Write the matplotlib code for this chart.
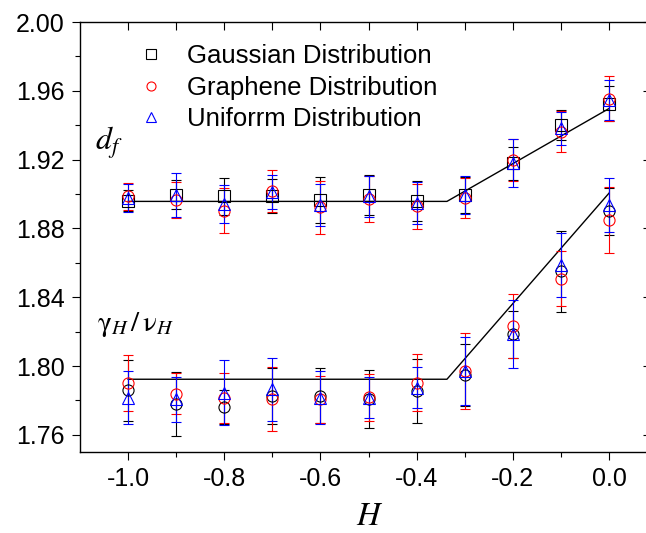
import matplotlib
matplotlib.use("Agg")
import matplotlib.pyplot as plt
import numpy as np
from matplotlib.lines import Line2D

plt.rcParams['font.family'] = ['Liberation Sans', 'DejaVu Sans']
plt.rcParams['mathtext.fontset'] = 'stix'
plt.rcParams['axes.unicode_minus'] = False

# H values
H = [-1.0, -0.9, -0.8, -0.7, -0.6, -0.5, -0.4, -0.3, -0.2, -0.1, 0.0]

# d_f (upper group)
df_gauss = [1.8961, 1.8995, 1.8986, 1.8986, 1.8966, 1.8995, 1.8957, 1.8995, 1.9179, 1.9401, 1.9526]
df_gauss_err = [0.0060, 0.0085, 0.0106, 0.0099, 0.0133, 0.0116, 0.0116, 0.0106, 0.0097, 0.0087, 0.0100]
df_graph = [1.8986, 1.8966, 1.8903, 1.9018, 1.8922, 1.8972, 1.8928, 1.8976, 1.9198, 1.9362, 1.9555]
df_graph_err = [0.0077, 0.0104, 0.0130, 0.0122, 0.0153, 0.0135, 0.0130, 0.0116, 0.0120, 0.0120, 0.0130]
df_unif = [1.8976, 1.8995, 1.8940, 1.9010, 1.8937, 1.8986, 1.8947, 1.8995, 1.9179, 1.9381, 1.9546]
df_unif_err = [0.0080, 0.0130, 0.0110, 0.0100, 0.0124, 0.0120, 0.0120, 0.0110, 0.0140, 0.0097, 0.0114]

# gamma_H / nu_H (lower group)
gn_gauss = [1.7859, 1.7781, 1.7762, 1.7826, 1.7826, 1.7807, 1.7855, 1.7948, 1.8184, 1.8551, 1.8899]
gn_gauss_err = [0.0176, 0.0186, 0.0100, 0.0162, 0.0160, 0.0170, 0.0186, 0.0180, 0.0135, 0.0236, 0.0135]
gn_graph = [1.7900, 1.7839, 1.7816, 1.7807, 1.7807, 1.7819, 1.7903, 1.7971, 1.8232, 1.8508, 1.8850]
gn_graph_err = [0.0164, 0.0118, 0.0145, 0.0186, 0.0137, 0.0137, 0.0164, 0.0220, 0.0188, 0.0160, 0.0193]
gn_unif = [1.7816, 1.7807, 1.7845, 1.7865, 1.7816, 1.7816, 1.7874, 1.7971, 1.8184, 1.8590, 1.8937]
gn_unif_err = [0.0155, 0.0130, 0.0190, 0.0184, 0.0155, 0.0118, 0.0118, 0.0200, 0.0198, 0.0186, 0.0157]

# piecewise fit lines
fit_H = [-1.0, -0.337, 0.0]
df_fit = [1.8957, 1.8957, 1.9497]
gn_fit = [1.7923, 1.7923, 1.9005]

labels = ['Gaussian Distribution', 'Graphene Distribution', 'Uniforrm Distribution']
colors = ['black', 'red', 'blue']
x_major = [-1.0, -0.8, -0.6, -0.4, -0.2, 0.0]
x_minor = [-0.9, -0.7, -0.5, -0.3, -0.1]
y_major = [1.76, 1.80, 1.84, 1.88, 1.92, 1.96, 2.00]
y_minor = [1.78, 1.82, 1.86, 1.90, 1.94, 1.98]

fig = plt.figure(figsize=(6.46, 5.33), dpi=100)
# the right frame edge lies just outside the picture, as in the original
ax = fig.add_axes([80 / 646, 1 - 452 / 533, 580 / 646, 430 / 533])

# fit lines
ax.plot(fit_H, df_fit, color='black', lw=1.0, zorder=1)
ax.plot(fit_H, gn_fit, color='black', lw=1.0, zorder=1)

sizes = {'s': 8.0, 'o': 8.0, '^': 9.0}
upper = [(df_gauss, df_gauss_err, 's'), (df_graph, df_graph_err, 'o'), (df_unif, df_unif_err, '^')]
lower = [(gn_gauss, gn_gauss_err, 'o'), (gn_graph, gn_graph_err, 'o'), (gn_unif, gn_unif_err, '^')]

for group in (upper, lower):
    for (vals, errs, mk), c in zip(group, colors):
        ax.errorbar(H, vals, yerr=errs, fmt=mk, color=c, mfc='none', mec=c,
                    ms=sizes[mk], mew=0.8, elinewidth=0.8, capsize=3.6, capthick=0.8, zorder=2)

ax.set_xlim(-1.1, 0.106)
ax.set_ylim(1.75, 2.00)
ax.set_xticks(x_major, ['%.1f' % v for v in x_major])
ax.set_xticks(x_minor, minor=True)
ax.set_yticks(y_major, ['%.2f' % v for v in y_major])
ax.set_yticks(y_minor, minor=True)
ax.tick_params(which='major', direction='out', length=6, width=0.8, labelsize=18, pad=5)
ax.tick_params(which='minor', direction='out', length=3.5, width=0.8)
for s in ax.spines.values():
    s.set_linewidth(1.0)
ax.spines['right'].set_visible(False)

# top and right ticks pointing inwards
top = ax.secondary_xaxis('top')
top.set_xticks(sorted(x_major + x_minor))
top.tick_params(direction='in', length=6, width=0.8, labeltop=False)
right = ax.secondary_yaxis('right')
right.set_yticks(y_major)
right.tick_params(direction='in', length=12, width=0.8, labelright=False)
for sec in (top, right):
    for s in sec.spines.values():
        s.set_visible(False)

ax.set_xlabel('$H$', fontsize=23.5, labelpad=7)

ax.text(-1.0686, 1.9258, '$d_f$', fontsize=23, ha='left', va='baseline')
ax.text(-1.064, 1.8203, r'$\mathrm{\gamma}_H\,/\,\mathrm{\nu}_H$', fontsize=21,
        ha='left', va='baseline')

handles = [Line2D([], [], ls='none', marker=m, color=c, mfc='none', ms=6.5, mew=0.8)
           for m, c in zip(['s', 'o', '^'], colors)]
ax.legend(handles, labels, loc='upper left', bbox_to_anchor=(0.082, 0.972), frameon=False,
          fontsize=18.5, labelspacing=0.28, handlelength=1.0,
          handletextpad=0.9, borderaxespad=0)

fig.savefig('out.png', dpi=100)
